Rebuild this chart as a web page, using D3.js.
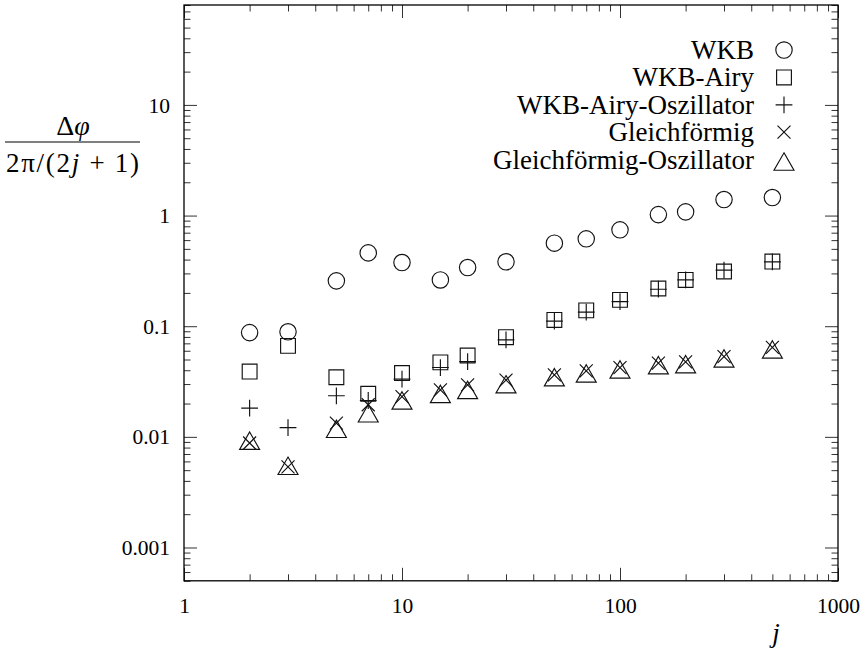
<!DOCTYPE html>
<html><head><meta charset="utf-8">
<script src="https://cdn.jsdelivr.net/npm/d3@7"></script>
<style>
body{margin:0;background:#fff}
svg{display:block}
text{font-family:"Liberation Serif","DejaVu Serif",serif;fill:#000}
</style>
</head><body>
<svg id="c" width="867" height="656"></svg>
<script>
const jValues      = [2, 3, 5, 7, 10, 15, 20, 30, 50, 70, 100, 150, 200, 300, 500];
const wkb          = [0.0875, 0.089, 0.257, 0.46, 0.376, 0.262, 0.339, 0.382, 0.563, 0.616, 0.743, 1.02, 1.08, 1.395, 1.455];
const wkbAiry      = [0.0389, 0.0664, 0.0346, 0.0245, 0.0377, 0.0471, 0.0544, 0.0796, 0.114, 0.139, 0.173, 0.219, 0.262, 0.312, 0.384];
const wkbAiryOsz   = [0.0182, 0.0121, 0.0235, 0.0213, 0.0332, 0.0423, 0.0479, 0.0753, 0.111, 0.134, 0.167, 0.216, 0.262, 0.321, 0.382];
const gleich       = [0.0088, 0.00535, 0.0133, 0.0195, 0.0231, 0.0266, 0.0295, 0.0326, 0.0363, 0.0395, 0.0423, 0.0464, 0.0476, 0.0532, 0.0643];
const gleichOsz    = [0.0096, 0.0057, 0.0123, 0.0170, 0.0222, 0.0254, 0.0276, 0.0311, 0.0360, 0.0389, 0.0423, 0.0462, 0.0472, 0.0532, 0.0641];
const seriesNames  = ["WKB", "WKB-Airy", "WKB-Airy-Oszillator", "Gleichförmig", "Gleichförmig-Oszillator"];
const seriesSymbols = ["circle", "square", "plus", "cross", "triangle"];
const xTickValues = [1, 10, 100, 1000];
const xTickLabels = ["1", "10", "100", "1000"];
const yTickValues = [0.001, 0.01, 0.1, 1, 10];
const yTickLabels = ["0.001", "0.01", "0.1", "1", "10"];

const seriesValues = [wkb, wkbAiry, wkbAiryOsz, gleich, gleichOsz];
const FONT = '"Liberation Serif","DejaVu Serif",serif';

const svg = d3.select("#c");
const L = 184, R = 838, T = 5, B = 580.8;
const x = d3.scaleLog().domain([1, 1000]).range([L, R]);
const y = d3.scaleLog().domain([0.0005, 80]).range([B, T]);

// minor ticks
const xMinor = [];
for (let d = 0; d < 3; d++) for (let k = 2; k <= 9; k++) xMinor.push(k * Math.pow(10, d));
const yMinor = [];
for (let d = -4; d <= 1; d++) for (let k = 2; k <= 9; k++) {
  const v = k * Math.pow(10, d);
  if (v >= 0.0005 && v <= 80) yMinor.push(v);
}

const MAJ = 13, MIN = 6.5;
function styleAxis(g) {
  g.attr("font-family", FONT);
  g.select(".domain").remove();
  g.selectAll(".tick line").attr("stroke", "#333").attr("stroke-width", 1);
}
// bottom
svg.append("g").attr("transform", `translate(0,${B})`)
  .call(d3.axisBottom(x).tickValues(xMinor).tickSize(-MIN).tickFormat("")).call(styleAxis);
const gxb = svg.append("g").attr("transform", `translate(0,${B})`)
  .call(d3.axisBottom(x).tickValues(xTickValues).tickSize(-MAJ).tickPadding(20)
    .tickFormat((d, i) => xTickLabels[i])).call(styleAxis);
gxb.selectAll("text").attr("font-size", 21.5).attr("fill", "#000")
  .attr("y", 32).attr("dy", 0);
// top
svg.append("g").attr("transform", `translate(0,${T})`)
  .call(d3.axisTop(x).tickValues(xMinor).tickSize(-MIN).tickFormat("")).call(styleAxis);
svg.append("g").attr("transform", `translate(0,${T})`)
  .call(d3.axisTop(x).tickValues(xTickValues).tickSize(-MAJ).tickFormat("")).call(styleAxis);
// left
svg.append("g").attr("transform", `translate(${L},0)`)
  .call(d3.axisLeft(y).tickValues(yMinor).tickSize(-MIN).tickFormat("")).call(styleAxis);
const gyl = svg.append("g").attr("transform", `translate(${L},0)`)
  .call(d3.axisLeft(y).tickValues(yTickValues).tickSize(-MAJ).tickPadding(14)
    .tickFormat((d, i) => yTickLabels[i])).call(styleAxis);
gyl.selectAll("text").attr("font-size", 21.5).attr("fill", "#000")
  .attr("dy", "0.33em");
// right
svg.append("g").attr("transform", `translate(${R},0)`)
  .call(d3.axisRight(y).tickValues(yMinor).tickSize(-MIN).tickFormat("")).call(styleAxis);
svg.append("g").attr("transform", `translate(${R},0)`)
  .call(d3.axisRight(y).tickValues(yTickValues).tickSize(-MAJ).tickFormat("")).call(styleAxis);

// border
svg.append("rect").attr("x", L).attr("y", T).attr("width", R - L).attr("height", B - T)
  .attr("fill", "none").attr("stroke", "#000").attr("stroke-width", 1.3);

// symbols
function symbolPath(type) {
  const p = d3.path();
  if (type === "circle") { p.moveTo(8.2, 0); p.arc(0, 0, 8.2, 0, 2 * Math.PI); }
  else if (type === "square") { p.rect(-7.4, -7.4, 14.8, 14.8); }
  else if (type === "plus") { p.moveTo(-8.4, 0); p.lineTo(8.4, 0); p.moveTo(0, -8.4); p.lineTo(0, 8.4); }
  else if (type === "cross") { p.moveTo(-6.5, -6.5); p.lineTo(6.5, 6.5); p.moveTo(-6.5, 6.5); p.lineTo(6.5, -6.5); }
  else if (type === "triangle") { p.moveTo(0, -6.8); p.lineTo(10, 10.6); p.lineTo(-10, 10.6); p.closePath(); }
  return p.toString();
}

const gData = svg.append("g");
seriesValues.forEach((vals, si) => {
  gData.append("g").selectAll("path").data(vals.map((v, i) => [jValues[i], v])).join("path")
    .attr("d", symbolPath(seriesSymbols[si]))
    .attr("transform", d => `translate(${x(d[0])},${y(d[1])})`)
    .attr("fill", "none").attr("stroke", "#111").attr("stroke-width", 1.15);
});

// legend
const legend = svg.append("g").attr("font-family", FONT);
seriesNames.forEach((name, i) => {
  const ry = 50 + 27.4 * i;
  legend.append("text").attr("x", 754).attr("y", ry + 9).attr("text-anchor", "end")
    .attr("font-size", 27).text(name);
  legend.append("path").attr("d", symbolPath(seriesSymbols[i]))
    .attr("transform", `translate(784,${ry})`)
    .attr("fill", "none").attr("stroke", "#111").attr("stroke-width", 1.15);
});

// y label (fraction)
const yl = svg.append("g").attr("font-family", FONT);
yl.append("text").attr("x", 73).attr("y", 135).attr("text-anchor", "middle").attr("font-size", 28)
  .html('Δ<tspan font-style="italic">φ</tspan>');
yl.append("line").attr("x1", 5).attr("x2", 140).attr("y1", 142).attr("y2", 142)
  .attr("stroke", "#000").attr("stroke-width", 1.2);
yl.append("text").attr("x", 6).attr("y", 172).attr("font-size", 27)
  .attr("textLength", 133).attr("lengthAdjust", "spacing")
  .html('2π/(2<tspan font-style="italic">j</tspan> + 1)');

// x label
svg.append("text").attr("x", 776).attr("y", 642).attr("text-anchor", "middle")
  .attr("font-family", FONT).attr("font-size", 27).attr("font-style", "italic").text("j");
</script>
</body></html>
